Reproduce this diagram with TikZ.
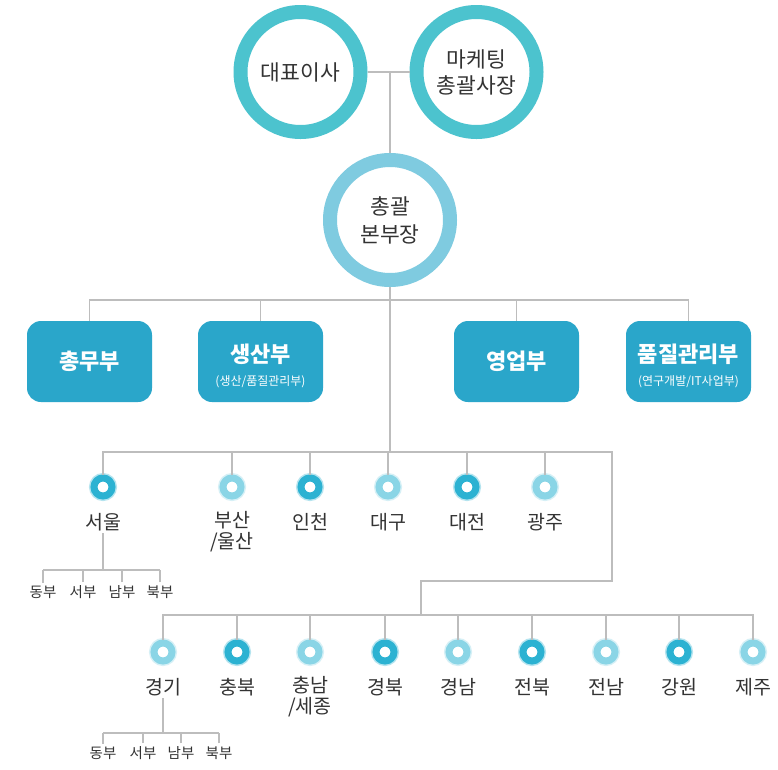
\documentclass[tikz,border=0pt]{standalone}
\usepackage{fontspec}
\newfontfamily\kr{Noto Sans CJK KR}
\usetikzlibrary{positioning}

\definecolor{ringtop}{HTML}{4CC3CE}
\definecolor{ringmid}{HTML}{7FCBE0}
\definecolor{deptblue}{HTML}{2AA6CA}
\definecolor{dotdark}{HTML}{2CB2D2}
\definecolor{dotlight}{HTML}{8AD5E6}
\definecolor{linegray}{HTML}{BDBDBD}
\definecolor{txtgray}{HTML}{333333}

\newcommand\deptsubfont{\kr\mdseries\fontsize{12}{13}\selectfont}

\tikzset{
    conn/.style={draw=linegray, line width=1.3pt},
    bigring/.style={circle, draw=#1, line width=14pt, minimum size=120pt, inner sep=0pt, fill=white,
        text=txtgray, align=center, font=\kr\fontsize{21.5}{28}\selectfont},
    dept/.style={rounded corners=14pt, fill=deptblue, minimum width=125pt, minimum height=81pt, inner sep=0pt},
    depttxt/.style={text=white, align=center, font=\kr\bfseries\fontsize{22}{24}\selectfont},
    dot/.style={circle, draw=#1, line width=7pt, minimum size=18pt, inner sep=0pt, fill=white,
        preaction={draw=#1!35, line width=10pt}},
    place/.style={text=txtgray, align=center, inner sep=2pt, font=\kr\fontsize{19.5}{21}\selectfont},
    sub/.style={text=txtgray, inner sep=3pt, font=\kr\fontsize{14.5}{15}\selectfont},
}

\begin{document}
\begin{tikzpicture}[x=1pt, y=-1pt]
    \fill[white] (0,0) rectangle (778,769);

    % top
    \node[bigring=ringtop] (ceo) at (300.5,72) {대표이사};
    \node[bigring=ringtop] (mkt) at (476.5,72) {마케팅\\[-2pt]총괄사장};
    \node[bigring=ringmid] (hq) at (390,220) {총괄\\본부장};

    % departments
    \node[dept] (chongmu) at (89.5,361.5) {};
    \node[dept] (saengsan) at (260.5,361.5) {};
    \node[dept] (youngup) at (516.5,361.5) {};
    \node[dept] (pumjil) at (688.5,361.5) {};
    \node[depttxt] at (chongmu) {총무부};
    \node[depttxt] at (260.5,366) {생산부\\[-1pt]{\deptsubfont (생산/품질관리부)}};
    \node[depttxt] at (youngup) {영업부};
    \node[depttxt] at (688.5,366) {품질관리부\\[-1pt]{\deptsubfont (연구개발/IT사업부)}};

    \coordinate (deptbar) at (390,300);
    \coordinate (r1bar) at (390,452);
    \coordinate (r1turn) at (612,581);
    \coordinate (r2top) at (421,615);

    % regions, first row
    \node[dot=dotdark] (seoul) at (103,487) {};
    \node[dot=dotlight] (busan) at (232,487) {};
    \node[dot=dotdark] (incheon) at (310,487) {};
    \node[dot=dotlight] (daegu) at (388,487) {};
    \node[dot=dotdark] (daejeon) at (467,487) {};
    \node[dot=dotlight] (gwangju) at (545,487) {};

    \node[place] (seoullbl) at (103,522) {서울};
    \node[place] at (232,532) {부산\\/울산};
    \node[place] at (310,522) {인천};
    \node[place] at (388,522) {대구};
    \node[place] at (467,522) {대전};
    \node[place] at (545,522) {광주};

    \coordinate (seoulbar) at (103,570);
    \node[sub] (s1a) at (43,592) {동부};
    \node[sub] (s1b) at (83,592) {서부};
    \node[sub] (s1c) at (122,592) {남부};
    \node[sub] (s1d) at (160,592) {북부};

    % regions, second row
    \node[dot=dotlight] (gyeonggi) at (163,652) {};
    \node[dot=dotdark] (chungbuk) at (237,652) {};
    \node[dot=dotlight] (chungnam) at (310,652) {};
    \node[dot=dotdark] (gyeongbuk) at (385,652) {};
    \node[dot=dotlight] (gyeongnam) at (458,652) {};
    \node[dot=dotdark] (jeonbuk) at (532,652) {};
    \node[dot=dotlight] (jeonnam) at (606,652) {};
    \node[dot=dotdark] (gangwon) at (679,652) {};
    \node[dot=dotlight] (jeju) at (753,652) {};

    \node[place] (gyeonggilbl) at (163,687) {경기};
    \node[place] at (237,687) {충북};
    \node[place] at (310,697) {충남\\/세종};
    \node[place] at (385,687) {경북};
    \node[place] at (458,687) {경남};
    \node[place] at (532,687) {전북};
    \node[place] at (606,687) {전남};
    \node[place] at (679,687) {강원};
    \node[place] at (753,687) {제주};

    \coordinate (gyeonggibar) at (163,733);
    \node[sub] (s2a) at (103,753) {동부};
    \node[sub] (s2b) at (143,753) {서부};
    \node[sub] (s2c) at (181,753) {남부};
    \node[sub] (s2d) at (219,753) {북부};

    % connectors
    \draw[conn] (ceo.east) -- (mkt.west);
    \draw[conn] (ceo.east -| hq.north) -- (hq.north);
    \draw[conn] (hq.south) -- (r1bar);
    \draw[conn] (chongmu.north) |- (deptbar) -| (pumjil.north);
    \draw[conn] (saengsan.north) -- (saengsan.north |- deptbar);
    \draw[conn] (youngup.north) -- (youngup.north |- deptbar);

    \draw[conn] (seoul.north) |- (r1turn |- r1bar) -- (r1turn) -| (r2top);
    \foreach \n in {busan,incheon,daegu,daejeon,gwangju}
        \draw[conn] (\n.north) -- (\n.north |- r1bar);

    \draw[conn] (seoullbl.south) -- (seoulbar);
    \draw[conn] (s1a.north |- seoulbar) -- (s1d.north |- seoulbar);
    \foreach \n in {s1a,s1b,s1c,s1d}
        \draw[conn] (\n.north) -- (\n.north |- seoulbar);

    \draw[conn] (gyeonggi.north) |- (jeju.north |- r2top) -- (jeju.north);
    \foreach \n in {chungbuk,chungnam,gyeongbuk,gyeongnam,jeonbuk,jeonnam,gangwon}
        \draw[conn] (\n.north) -- (\n.north |- r2top);

    \draw[conn] (gyeonggilbl.south) -- (gyeonggibar);
    \draw[conn] (s2a.north |- gyeonggibar) -- (s2d.north |- gyeonggibar);
    \foreach \n in {s2a,s2b,s2c,s2d}
        \draw[conn] (\n.north) -- (\n.north |- gyeonggibar);
\end{tikzpicture}
\end{document}
